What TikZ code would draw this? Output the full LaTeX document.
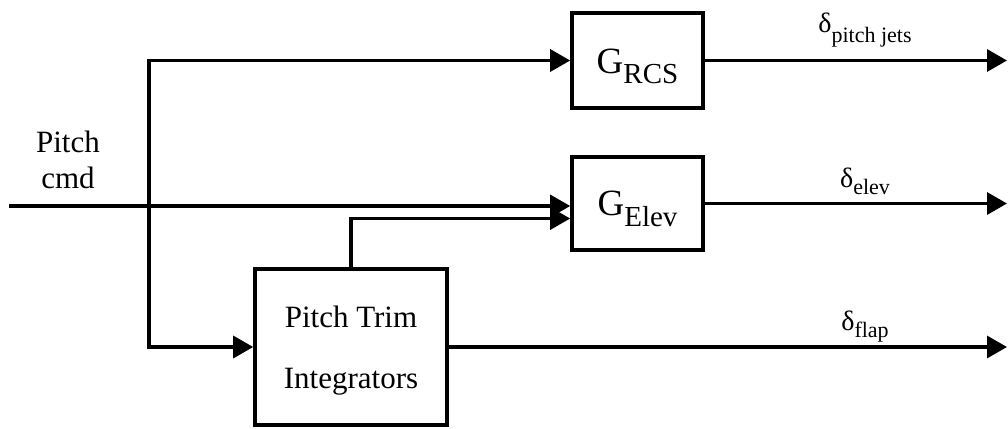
\documentclass[tikz,border=0pt]{standalone}
\usepackage{fontspec}
\setmainfont{Liberation Serif}
\usetikzlibrary{arrows.meta}
\begin{document}
\begin{tikzpicture}[x=1pt,y=-1pt,
  wire/.style={line width=3.3pt,-{Triangle[length=20pt,width=22pt]}},
  blk/.style={draw,line width=3.6pt,inner sep=0pt},
  lab/.style={font=\fontsize{31}{36}\selectfont,align=center,inner sep=0pt}]
\useasboundingbox (0,0) rectangle (1008,428);
% blocks
\node[blk,minimum width=131pt,minimum height=95pt,text height=33pt,text depth=8pt] (rcs) at (637.5,60.5)
  {\fontsize{37}{37}\selectfont G\raisebox{-10pt}{\fontsize{29}{29}\selectfont RCS}};
\node[blk,minimum width=131pt,minimum height=93pt,text height=31pt,text depth=8pt] (elev) at (637.5,203.5)
  {\fontsize{37}{37}\selectfont G\raisebox{-11pt}{\fontsize{29}{29}\selectfont Elev}};
\node[blk,minimum width=192pt,minimum height=156pt,align=center,text depth=0pt,
  font=\fontsize{31}{61}\selectfont] (trim) at (351,347) {Pitch Trim\\Integrators};
% input
\coordinate (in) at (9,206);
\coordinate (split) at (149,206);
\coordinate (rightend) at (1007,0);
\node[lab] (cmd) at (68,159.5) {Pitch\\cmd};
\draw[wire] (in) -- (elev.west |- in);
\draw[wire] (split) |- (rcs.west);
\draw[wire] (split) |- (trim.west);
\draw[wire] (trim.north) |- ([yshift=-15pt]elev.west);
% outputs
\draw[wire] (rcs.east) -- (rcs.east -| rightend);
\draw[wire] (elev.east) -- (elev.east -| rightend);
\draw[wire] (trim.east) -- (trim.east -| rightend);
\node[anchor=base] (d1) at (865,33) {\fontsize{28}{28}\selectfont δ\raisebox{-10pt}{\fontsize{22}{22}\selectfont pitch jets}};
\node[anchor=base] (d2) at (865,187) {\fontsize{28}{28}\selectfont δ\raisebox{-7pt}{\fontsize{22}{22}\selectfont elev}};
\node[anchor=base] (d3) at (865,330) {\fontsize{28}{28}\selectfont δ\raisebox{-7pt}{\fontsize{22}{22}\selectfont flap}};
\end{tikzpicture}
\end{document}
